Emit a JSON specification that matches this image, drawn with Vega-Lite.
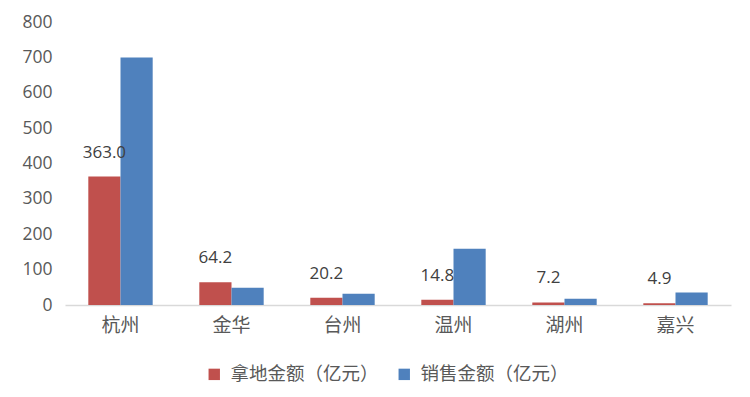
{
  "$schema": "https://vega.github.io/schema/vega-lite/v6.json",
  "width": 666,
  "height": 283,
  "autosize": {"type": "none"},
  "padding": {"left": 65, "top": 22, "right": 19, "bottom": 92},
  "background": "white",
  "config": {"view": {"stroke": null}, "font": "Noto Sans CJK SC"},
  "data": {
    "values": [
      {"city": "杭州", "series": "拿地金额（亿元）", "value": 363.0},
      {"city": "杭州", "series": "销售金额（亿元）", "value": 700},
      {"city": "金华", "series": "拿地金额（亿元）", "value": 64.2},
      {"city": "金华", "series": "销售金额（亿元）", "value": 49},
      {"city": "台州", "series": "拿地金额（亿元）", "value": 20.2},
      {"city": "台州", "series": "销售金额（亿元）", "value": 32},
      {"city": "温州", "series": "拿地金额（亿元）", "value": 14.8},
      {"city": "温州", "series": "销售金额（亿元）", "value": 159},
      {"city": "湖州", "series": "拿地金额（亿元）", "value": 7.2},
      {"city": "湖州", "series": "销售金额（亿元）", "value": 18},
      {"city": "嘉兴", "series": "拿地金额（亿元）", "value": 4.9},
      {"city": "嘉兴", "series": "销售金额（亿元）", "value": 35}
    ]
  },
  "encoding": {
    "x": {
      "field": "city",
      "type": "nominal",
      "sort": ["杭州", "金华", "台州", "温州", "湖州", "嘉兴"],
      "scale": {"paddingInner": 0.42, "paddingOuter": 0.21},
      "axis": {
        "title": null,
        "labelAngle": 0,
        "labelFont": "Noto Sans CJK SC",
        "labelFontSize": 19,
        "labelColor": "#595959",
        "labelPadding": 11,
        "ticks": false,
        "domainColor": "#d9d9d9",
        "domainWidth": 1.5
      }
    },
    "xOffset": {
      "field": "series",
      "type": "nominal",
      "sort": ["拿地金额（亿元）", "销售金额（亿元）"]
    },
    "y": {
      "field": "value",
      "type": "quantitative",
      "scale": {"domain": [0, 800], "nice": false},
      "axis": {
        "title": null,
        "values": [0, 100, 200, 300, 400, 500, 600, 700, 800],
        "grid": false,
        "domain": false,
        "ticks": false,
        "labelFont": "Open Sans",
        "labelFontSize": 17.5,
        "labelColor": "#595959",
        "labelPadding": 13
      }
    }
  },
  "layer": [
    {
      "mark": {"type": "bar"},
      "encoding": {
        "color": {
          "field": "series",
          "type": "nominal",
          "sort": ["拿地金额（亿元）", "销售金额（亿元）"],
          "scale": {"range": ["#C0504D", "#4F81BD"]},
          "legend": {
            "title": null,
            "orient": "none",
            "legendX": 140,
            "legendY": 343,
            "direction": "horizontal",
            "symbolType": "square",
            "symbolSize": 130,
            "symbolStrokeWidth": 0,
            "labelFont": "Noto Sans CJK SC",
            "labelFontSize": 18.5,
            "labelColor": "#595959",
            "labelLimit": 300,
            "columnPadding": 16,
            "labelOffset": 7
          }
        }
      }
    },
    {
      "transform": [{"filter": "datum.series === '拿地金额（亿元）'"}],
      "mark": {"type": "text", "dy": -24, "fontSize": 17, "font": "Open Sans", "color": "#404040"},
      "encoding": {
        "text": {"field": "value", "type": "quantitative", "format": ".1f"}
      }
    }
  ]
}
